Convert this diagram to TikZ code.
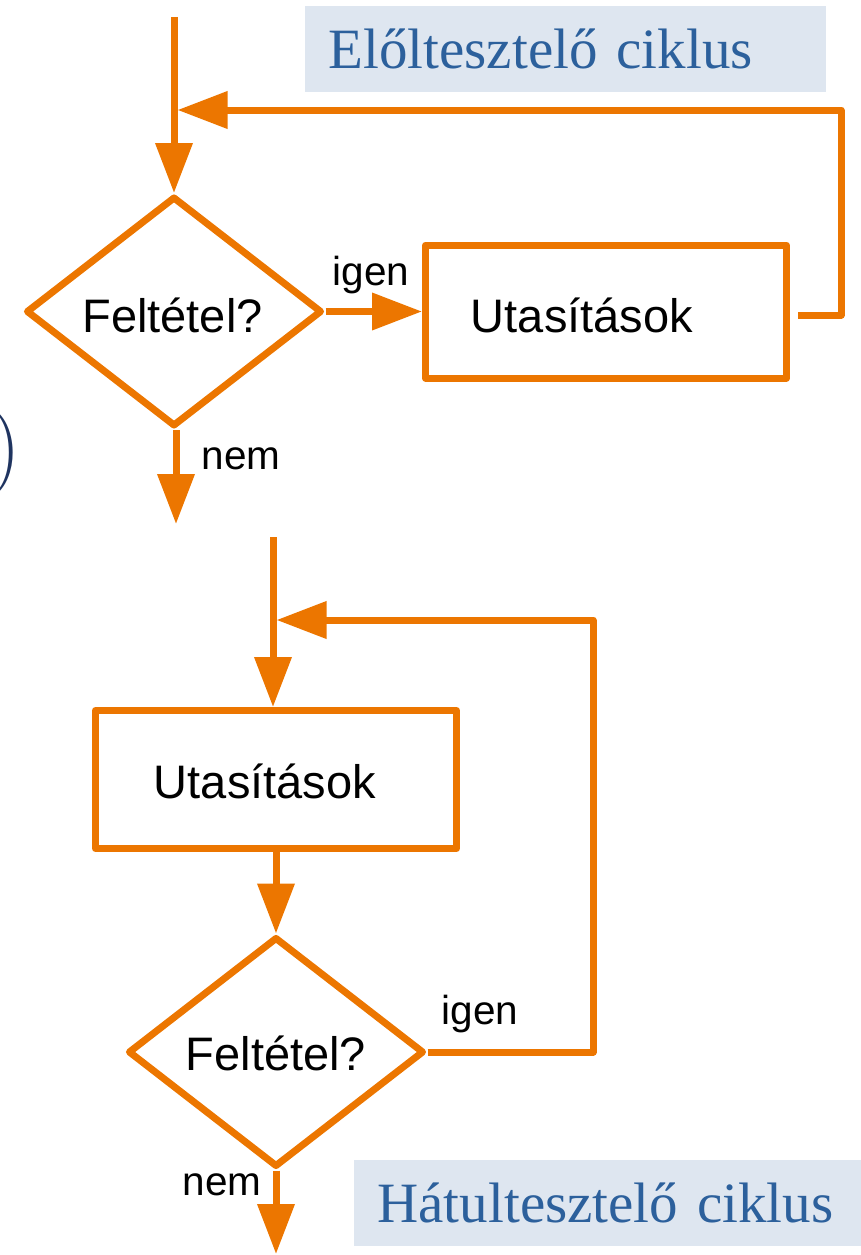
\documentclass[tikz,border=0pt]{standalone}
\usepackage{fontspec}
\setmainfont{Liberation Serif}
\newfontfamily\flowfont{Liberation Sans}
\newfontfamily\parenfont{Latin Modern Roman}
\usetikzlibrary{shapes.geometric,arrows.meta}

\definecolor{flow}{RGB}{236,118,0}
\definecolor{titletext}{RGB}{44,96,156}
\definecolor{titlefill}{RGB}{222,230,240}
\definecolor{navy}{RGB}{31,52,96}

\tikzset{
  flowline/.style={draw=flow, line width=7pt, line join=round},
  flowarrow/.style={flowline, -{Triangle[length=50pt,width=36pt]}},
  decision/.style={flowline, shape=diamond, inner sep=0pt, minimum width=296pt, minimum height=230pt},
  action/.style={flowline, shape=rectangle, inner sep=0pt, minimum width=361pt},
  bigtext/.style={font=\flowfont\fontsize{47}{56}\selectfont, anchor=base, inner sep=0pt},
  smalltext/.style={font=\flowfont\fontsize{40.5}{48}\selectfont, anchor=base, inner sep=0pt},
  titlebox/.style={fill=titlefill, text=titletext, font=\fontsize{57}{68}\selectfont,
    inner xsep=23.5pt, inner ysep=0pt, minimum height=86pt, align=left},
}

\begin{document}
\begin{tikzpicture}[x=1pt,y=-1pt]
\useasboundingbox (0,0) rectangle (861,1255);

% headings
\node[titlebox, minimum width=521pt, text width=474pt] (t1) at (565.5,49) {Előltesztelő ciklus};
\node[titlebox, minimum width=520pt, text width=473pt] (t2) at (614,1203) {Hátultesztelő ciklus};

% closing parenthesis at the left edge
\node[text=navy, font=\parenfont\fontsize{86}{100}\selectfont, anchor=base east, inner sep=0pt] (paren) at (21,474) {)};

% ---- pre-test loop ----
\node[decision] (d1) at (174,311.5) {};
\node[action, minimum height=133pt] (b1) at (606,311.5) {};
\node[bigtext] (d1t) at (172.5,332) {Feltétel?};
\node[bigtext] (b1t) at (582,332) {Utasítások};

\coordinate (in1) at (174,17);
\coordinate (out1) at (176,524);
\coordinate (r1) at (841,110);

\draw[flowarrow] (in1) -- (d1.north);
\draw[flowarrow] ([xshift=8pt,yshift=-3.5pt]b1.east) -- ([yshift=-3.5pt]b1.east -| r1) -- (r1) -- ([xshift=3.5pt]in1 |- r1);
\draw[flowarrow] (d1.east) -- (b1.west);
\draw[flowarrow] (d1.south -| out1) -- (out1);
\node[smalltext] (yes1) at (371,285) {igen};
\node[smalltext] (no1) at (241,469) {nem};

% ---- post-test loop ----
\node[action, minimum height=138pt] (b2) at (276,779.5) {};
\node[decision] (d2) at (276,1052) {};
\node[bigtext] (b2t) at (265,798) {Utasítások};
\node[bigtext] (d2t) at (276,1070) {Feltétel?};

\coordinate (in2) at (273,537);
\coordinate (out2) at (276,1254);
\coordinate (r2) at (593,620);

\draw[flowarrow] (in2) -- (in2 |- b2.north);
\draw[flowarrow] (d2.east) -- (d2.east -| r2) -- (r2) -- ([xshift=3.5pt]in2 |- r2);
\draw[flowarrow] (b2.south) -- (d2.north);
\draw[flowarrow] (d2.south) -- (out2);
\node[smalltext] (yes2) at (480,1024) {igen};
\node[smalltext] (no2) at (222,1195) {nem};
\end{tikzpicture}
\end{document}
